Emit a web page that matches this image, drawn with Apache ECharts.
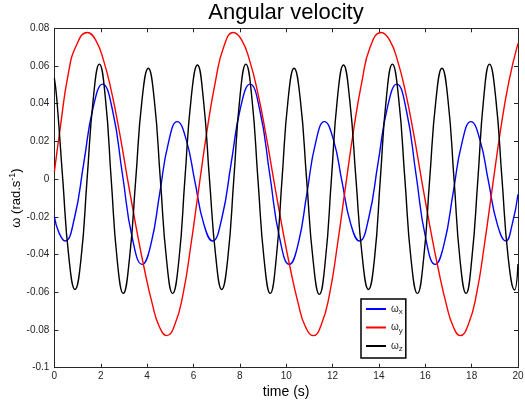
<!DOCTYPE html>
<html>
<head>
<meta charset="utf-8">
<script src="https://cdn.jsdelivr.net/npm/echarts@6/dist/echarts.min.js"></script>
<style>html,body{margin:0;padding:0;background:#fff}#c{width:525px;height:402px}</style>
</head>
<body>
<div id="c"></div>
<script>
// ---- data ----
const xTicks = [0, 2, 4, 6, 8, 10, 12, 14, 16, 18, 20];
const yTicks = [-0.1, -0.08, -0.06, -0.04, -0.02, 0, 0.02, 0.04, 0.06, 0.08];

const wxT = [0, 0.2, 0.46, 0.865, 1.27, 1.675, 2.08, 2.51, 2.935, 3.36, 3.79, 4.17, 4.545, 4.92, 5.30, 5.68, 6.06, 6.44, 6.82, 7.225, 7.63, 8.035, 8.44, 8.865, 9.29, 9.715, 10.14, 10.52, 10.895, 11.27, 11.65, 12.03, 12.405, 12.78, 13.16, 13.56, 13.965, 14.37, 14.77, 15.185, 15.60, 16.015, 16.43, 16.815, 17.20, 17.585, 17.97, 18.35, 18.725, 19.10, 19.48, 19.75, 20];
const wxV = [-0.020, -0.0285, -0.0328, -0.0206, 0.0088, 0.0382, 0.0504, 0.0364, 0.0026, -0.0312, -0.0452, -0.0342, -0.0074, 0.0194, 0.0305, 0.0212, -0.0012, -0.0236, -0.0328, -0.0206, 0.0088, 0.0382, 0.0504, 0.0364, 0.0026, -0.0312, -0.0452, -0.0342, -0.0074, 0.0194, 0.0305, 0.0212, -0.0012, -0.0236, -0.0328, -0.0206, 0.0088, 0.0382, 0.0504, 0.0364, 0.0026, -0.0312, -0.0452, -0.0342, -0.0074, 0.0194, 0.0305, 0.0212, -0.0012, -0.0236, -0.0328, -0.024, -0.008];

const wyT = [0, 0.25, 0.60, 0.95, 1.42, 1.77, 2.12, 2.47, 2.82, 3.17, 3.52, 3.87, 4.22, 4.52, 4.85, 5.20, 5.55, 5.90, 6.25, 6.60, 6.95, 7.30, 7.72, 8.07, 8.42, 8.77, 9.12, 9.47, 9.82, 10.17, 10.52, 10.82, 11.17, 11.52, 11.87, 12.22, 12.57, 12.92, 13.27, 13.62, 14.10, 14.45, 14.80, 15.15, 15.50, 15.85, 16.20, 16.55, 16.90, 17.20, 17.51, 17.86, 18.21, 18.56, 18.91, 19.26, 19.61, 20];
const wyV = [0.004, 0.027, 0.056, 0.071, 0.0778, 0.074, 0.063, 0.046, 0.024, -0.001, -0.025, -0.047, -0.066, -0.078, -0.083, -0.077, -0.061, -0.034, -0.003, 0.027, 0.052, 0.070, 0.0778, 0.074, 0.063, 0.046, 0.024, -0.001, -0.025, -0.047, -0.066, -0.078, -0.083, -0.077, -0.061, -0.034, -0.003, 0.027, 0.052, 0.070, 0.0778, 0.074, 0.063, 0.046, 0.024, -0.001, -0.025, -0.047, -0.066, -0.078, -0.083, -0.077, -0.061, -0.034, -0.003, 0.027, 0.052, 0.072];

const wzT = [0, 0.10, 0.36, 0.62, 0.89, 1.15, 1.41, 1.68, 1.94, 2.20, 2.45, 2.71, 2.97, 3.24, 3.51, 3.78, 4.05, 4.31, 4.57, 4.84, 5.10, 5.37, 5.63, 5.90, 6.17, 6.43, 6.69, 6.96, 7.22, 7.48, 7.74, 8.00, 8.26, 8.52, 8.78, 9.05, 9.31, 9.57, 9.82, 10.08, 10.34, 10.61, 10.88, 11.16, 11.43, 11.69, 11.95, 12.21, 12.47, 12.74, 13.01, 13.28, 13.55, 13.81, 14.06, 14.32, 14.58, 14.85, 15.12, 15.39, 15.66, 15.93, 16.19, 16.46, 16.72, 16.98, 17.24, 17.50, 17.76, 18.01, 18.27, 18.52, 18.77, 19.04, 19.31, 19.58, 19.85, 20];
const wzV = [0.0535, 0.043, 0.0, -0.041, -0.0585, -0.042, 0.0, 0.043, 0.061, 0.043, 0.0, -0.043, -0.0606, -0.042, 0.0, 0.042, 0.0588, 0.042, 0.0, -0.043, -0.0606, -0.043, 0.0, 0.043, 0.0605, 0.042, 0.0, -0.041, -0.0585, -0.042, 0.0, 0.043, 0.061, 0.043, 0.0, -0.043, -0.0606, -0.042, 0.0, 0.042, 0.0588, 0.042, 0.0, -0.043, -0.0611, -0.043, 0.0, 0.043, 0.0605, 0.042, 0.0, -0.041, -0.0585, -0.042, 0.0, 0.043, 0.061, 0.043, 0.0, -0.043, -0.0606, -0.042, 0.0, 0.042, 0.0588, 0.042, 0.0, -0.043, -0.0606, -0.042, 0.0, 0.043, 0.061, 0.043, 0.0, -0.042, -0.0588, -0.045];

const seriesNames = ['ωx', 'ωy', 'ωz'];
const seriesColors = ['#0000ff', '#ff0000', '#000000'];
const titleText = 'Angular velocity';
const xName = 'time (s)';

// ---- chart ----
const zip = (t, v) => t.map((x, i) => [x, v[i]]);
const FONT = '"Liberation Sans", Arial, sans-serif';
const INK = '#262626';
const G = {left: 54.4, right: 7, top: 28.3, bottom: 34.3, containLabel: false, outerBoundsMode: 'none'};

const chart = echarts.init(document.getElementById('c'), null, {renderer: 'canvas'});
const axisCommon = {
  type: 'value',
  axisLine: {show: true, onZero: false, lineStyle: {color: INK, width: 1}},
  axisTick: {show: true, inside: true, length: 4, lineStyle: {color: INK, width: 1}},
  splitLine: {show: false}
};
chart.setOption({
  animation: false,
  backgroundColor: '#fff',
  title: {
    text: titleText, left: 286, top: 1.5, padding: 0, textAlign: 'center',
    textStyle: {fontFamily: FONT, fontSize: 22, fontWeight: 'normal', color: '#000'}
  },
  grid: G,
  legend: {
    orient: 'vertical', left: 361, top: 299, padding: [5, 3, 5, 5],
    icon: 'rect', itemWidth: 20, itemHeight: 2, itemGap: 6.5,
    borderColor: '#000', borderWidth: 1.5, backgroundColor: '#fff', borderRadius: 0,
    data: seriesNames,
    formatter: n => '{w|ω}{s|' + n.slice(1) + '}',
    textStyle: {
      fontFamily: FONT, color: INK,
      rich: {
        w: {fontSize: 10, fontFamily: FONT, color: INK},
        s: {fontSize: 8, fontFamily: FONT, color: INK, padding: [6, 0, 0, 0]}
      }
    }
  },
  xAxis: [
    Object.assign({}, axisCommon, {
      position: 'bottom', min: xTicks[0], max: xTicks[xTicks.length - 1], interval: 2,
      name: xName, nameLocation: 'middle', nameGap: 17, nameMoveOverlap: false,
      nameTextStyle: {fontFamily: FONT, fontSize: 14, color: '#000', verticalAlign: 'top'},
      axisLabel: {show: true, margin: 4, fontFamily: FONT, fontSize: 10, color: INK}
    }),
    Object.assign({}, axisCommon, {
      position: 'top', min: xTicks[0], max: xTicks[xTicks.length - 1], interval: 2,
      axisLabel: {show: false}
    })
  ],
  yAxis: [
    Object.assign({}, axisCommon, {
      position: 'left', min: yTicks[0], max: yTicks[yTicks.length - 1], interval: 0.02,
      name: '{b|ω (rad.s}{p|-1}{b|)}', nameLocation: 'middle', nameGap: 30, nameMoveOverlap: false,
      nameTextStyle: {
        fontFamily: FONT, color: '#000',
        rich: {
          b: {fontSize: 13, fontFamily: FONT, color: '#000'},
          p: {fontSize: 9, fontFamily: FONT, color: '#000', padding: [0, 0, 7, 0]}
        }
      },
      axisLabel: {show: true, margin: 5, fontFamily: FONT, fontSize: 10, color: INK,
        formatter: v => String(+v.toFixed(2))}
    }),
    Object.assign({}, axisCommon, {
      position: 'right', min: yTicks[0], max: yTicks[yTicks.length - 1], interval: 0.02,
      axisLabel: {show: false}
    })
  ],
  series: [
    {name: seriesNames[0], type: 'line', data: zip(wxT, wxV)},
    {name: seriesNames[1], type: 'line', data: zip(wyT, wyV)},
    {name: seriesNames[2], type: 'line', data: zip(wzT, wzV)}
  ].map((s, i) => Object.assign(s, {
    xAxisIndex: 0, yAxisIndex: 0, symbol: 'none', smooth: 0.5, clip: true,
    lineStyle: {color: seriesColors[i], width: 1.4}, itemStyle: {color: seriesColors[i]}
  }))
});
</script>
</body>
</html>
